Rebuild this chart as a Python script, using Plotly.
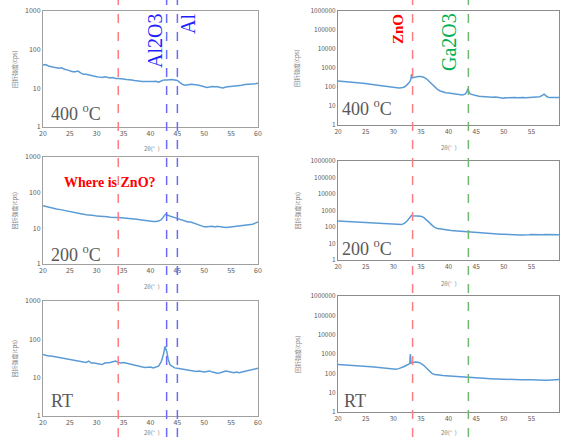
import plotly.graph_objects as go

W, H = 561, 437

# ---------------- data (2θ in degrees, intensity in cps) ----------------
L400 = [(20,40),(20.5,41),(21,38),(21.5,36),(22,35),(22.5,34),(23,33),(23.5,34),(24,31),(24.5,30),
        (25,28),(25.5,27),(26,27),(26.5,28),(27,25),(27.5,23),(28,23),(28.5,22),(29,22),(29.5,21),
        (30,20),(30.5,19.5),(31,19),(31.5,20),(32,19),(32.5,18.5),(33,19),(33.5,18),(34,18),(34.5,18),
        (35,17.5),(35.5,17),(36,17),(36.5,16.5),(37,16),(37.5,15.5),(38,15),(38.5,15),(39,15),(39.5,14.8),
        (40,15),(40.5,15),(41,15.2),(41.5,14.5),(42,15.5),(42.5,16.5),(43,16.5),(43.5,16.8),(44,17),(44.5,16.5),
        (45,16),(45.5,14),(46,12.5),(46.5,12),(47,12.5),(47.5,12.8),(48,12.5),(48.5,12.5),(49,12),(49.5,11.5),
        (50,11),(50.5,10.5),(51,10.8),(51.5,11.2),(52,11),(52.5,11),(53,10.5),(53.5,10.2),(54,10.8),(54.5,11),
        (55,11),(55.5,11.2),(56,11.5),(56.5,11.5),(57,12),(57.5,12.5),(58,12.5),(58.5,13),(59,13),(59.5,13.2),(60,13.5)]

L200 = [(20,43),(20.5,41),(21,40),(21.5,38),(22,37),(22.5,35),(23,34),(23.5,33),(24,32),(24.5,30),
        (25,29),(25.5,28),(26,28),(26.5,27),(27,26),(27.5,25),(28,24),(28.5,24),(29,24),(29.5,23),
        (30,22),(30.5,22),(31,21.5),(31.5,21),(32,21),(32.5,20.5),(33,20),(33.5,20),(34,20),(34.5,19.8),
        (35,19.5),(35.5,19),(36,19),(36.5,18.5),(37,18.5),(37.5,18),(38,17.5),(38.5,17),(39,16.5),(39.5,16),
        (40,16),(40.5,15.5),(41,15.5),(41.5,16),(42,17.5),(42.5,21),(42.8,25),(43,24),(43.5,22),(44,21),
        (44.5,20),(45,19),(45.5,18),(46,17),(46.5,16),(47,15),(47.5,15),(48,14),(48.5,13),(49,12),
        (49.5,11.5),(50,11),(50.5,11),(51,11.5),(51.5,11.5),(52,11),(52.5,11.5),(53,11),(53.5,10.5),(54,10.5),
        (54.5,10.8),(55,11),(55.5,11),(56,11.5),(56.5,11.5),(57,12),(57.5,12),(58,12.5),(58.5,12.5),(59,13),
        (59.5,14),(60,15)]

LRT = [(20,40),(20.5,38),(21,37),(21.5,37),(22,36),(22.5,34),(23,33),(23.5,33),(24,32),(24.5,31),
       (25,30),(25.5,29),(26,28),(26.5,28),(27,27),(27.5,26),(28,25),(28.5,27),(29,24),(29.5,24),
       (30,23),(30.5,23),(31,22),(31.5,24),(32,24),(32.5,25),(33,26),(33.5,27),(34,25),(34.5,24),
       (35,25),(35.5,24),(36,23),(36.5,22),(37,21),(37.5,20),(38,19),(38.5,19),(39,18.5),(39.5,19),
       (40,19),(40.5,18),(41,19),(41.5,20),(42,26),(42.4,40),(42.7,65),(43,50),(43.3,30),(43.6,22),
       (44,20),(44.5,18),(45,17.5),(45.5,17),(46,16.5),(46.5,16),(47,15.5),(47.5,15),(48,15),(48.5,14.5),
       (49,15),(49.5,14.5),(50,14),(50.5,14.5),(51,15),(51.5,14),(52,13.5),(52.5,13),(53,13.5),(53.5,14),
       (54,15),(54.5,14.5),(55,14),(55.5,13.5),(56,14),(56.5,13.5),(57,14),(57.5,14.5),(58,15),(58.5,16),
       (59,16.5),(59.5,17),(60,17.5)]

R400 = [(20,210),(20.5,205),(21,200),(21.5,195),(22,190),(22.5,185),(23,178),(23.5,172),(24,165),(24.5,160),
        (25,152),(25.5,145),(26,138),(26.5,132),(27,125),(27.5,120),(28,113),(28.5,108),(29,102),(29.5,97),
        (30,93),(30.5,90),(31,88),(31.5,90),(32,100),(32.5,130),(33,190),(33.2,260),(33.3,470),(33.4,300),
        (33.7,320),(34,340),(34.5,360),(35,360),(35.5,330),(36,270),(36.5,200),(37,140),(37.5,100),(38,75),
        (38.5,62),(39,55),(39.5,50),(40,48),(40.5,46),(41,44),(41.5,42),(42,40),(42.5,38),(43,42),
        (43.3,55),(43.5,80),(43.7,55),(44,42),(44.5,38),(45,35),(45.5,33),(46,32),(46.5,31),(47,30),
        (47.5,30),(48,29),(48.5,30),(49,28),(49.5,27),(50,26),(50.5,27),(51,28),(51.5,27),(52,28),
        (52.5,27),(53,28),(53.5,28),(54,27),(54.5,28),(55,29),(55.5,28),(56,29),(56.5,31),(57,36),
        (57.3,42),(57.6,35),(58,29),(58.5,28),(59,27),(59.5,28),(60,28)]

R200 = [(20,230),(20.5,225),(21,222),(21.5,220),(22,215),(22.5,212),(23,208),(23.5,205),(24,200),(24.5,195),
        (25,190),(25.5,185),(26,180),(26.5,175),(27,168),(27.5,163),(28,158),(28.5,152),(29,148),(29.5,143),
        (30,140),(30.5,138),(31,135),(31.5,140),(32,165),(32.5,230),(33,380),(33.3,500),(33.5,480),(34,470),
        (34.5,460),(35,450),(35.5,380),(36,280),(36.5,190),(37,130),(37.5,95),(38,82),(38.5,76),(39,72),
        (39.5,68),(40,64),(40.5,62),(41,60),(41.5,58),(42,60),(42.5,56),(43,52),(43.5,50),(44,48),
        (44.5,46),(45,45),(45.5,44),(46,43),(46.5,42),(47,41),(47.5,40),(48,39),(48.5,38),(49,37),
        (49.5,36),(50,36),(50.5,35),(51,35),(51.5,34),(52,34),(52.5,34),(53,33),(53.5,33),(54,32),
        (54.5,34),(55,35),(55.5,34),(56,35),(56.5,35),(57,34),(57.5,35),(58,35),(58.5,34),(59,36),
        (59.5,35),(60,34)]

RRT = [(20,290),(20.5,285),(21,280),(21.5,275),(22,270),(22.5,265),(23,258),(23.5,252),(24,245),(24.5,238),
       (25,232),(25.5,225),(26,218),(26.5,210),(27,202),(27.5,195),(28,188),(28.5,180),(29,172),(29.5,165),
       (30,160),(30.5,165),(31,175),(31.5,195),(32,225),(32.5,270),(33,320),(33.05,700),(33.1,1000),(33.15,600),
       (33.2,340),(33.5,360),(34,380),(34.5,370),(35,330),(35.5,260),(36,190),(36.5,135),(37,100),(37.5,88),
       (38,82),(38.5,79),(39,77),(39.5,75),(40,73),(40.5,71),(41,69),(41.5,68),(42,66),(42.5,65),
       (43,63),(43.5,62),(44,61),(44.5,60),(45,59),(45.5,57),(46,56),(46.5,55),(47,54),(47.5,53),
       (48,52),(48.5,51),(49,50),(49.5,49),(50,49),(50.5,48),(51,48),(51.5,47),(52,47),(52.5,46),
       (53,46),(53.5,47),(54,45),(54.5,46),(55,46),(55.5,45),(56,45),(56.5,46),(57,45),(57.5,44),
       (58,44),(58.5,45),(59,46),(59.5,47),(60,48)]

temp_labels = ["400 <sup>o</sup>C", "200 <sup>o</sup>C", "RT"]
x_ticks = [20, 25, 30, 35, 40, 45, 50, 55, 60]
left_y_ticks = [1, 10, 100, 1000]
right_y_ticks = [1, 10, 100, 1000, 10000, 100000, 1000000]

left_lines = {"ZnO": 34, "Al2O3": 43, "Al": 45}
right_lines = {"ZnO": 33.5, "Ga2O3": 43.6}

# ---------------- layout geometry (pixels) ----------------
left_x_px = (43, 258)
right_x_px = (338, 559)
left_rows_px = [(11, 127), (157, 264), (301, 416)]
right_rows_px = [(11, 125), (161, 260), (296, 412)]

def xd(a, b):
    return [a / W, b / W]

def yd(top, bottom):
    return [1 - bottom / H, 1 - top / H]

fig = go.Figure()
LINE = "#5b9bd5"
TXT = "#595959"

panels = [(L400, 1), (L200, 2), (LRT, 3), (R400, 4), (R200, 5), (RRT, 6)]
for pts, k in panels:
    xs = [p[0] for p in pts]
    ys = [p[1] for p in pts]
    fig.add_trace(go.Scatter(x=xs, y=ys, mode="lines",
                             line=dict(color=LINE, width=1.5),
                             xaxis="x" if k == 1 else f"x{k}",
                             yaxis="y" if k == 1 else f"y{k}",
                             showlegend=False, hoverinfo="skip"))

layout = dict(width=W, height=H, margin=dict(l=0, r=0, t=0, b=0),
              paper_bgcolor="white", plot_bgcolor="white", showlegend=False)

for k in range(1, 7):
    left = k <= 3
    row = (k - 1) % 3
    top, bottom = (left_rows_px if left else right_rows_px)[row]
    xpx = left_x_px if left else right_x_px
    frame = "#a0a0a0" if left else "#8c8c8c"
    fs = 7 if left else 6.5
    xname = "xaxis" if k == 1 else f"xaxis{k}"
    yname = "yaxis" if k == 1 else f"yaxis{k}"
    xa = "x" if k == 1 else f"x{k}"
    ya = "y" if k == 1 else f"y{k}"
    layout[xname] = dict(domain=xd(*xpx), anchor=ya, range=[20, 60],
                         tickvals=x_ticks, ticktext=[str(t) for t in x_ticks],
                         showline=True, mirror=True, linecolor=frame, linewidth=1,
                         showgrid=False, zeroline=False, ticks="",
                         tickfont=dict(size=fs, color=TXT, family="Noto Sans CJK JP"),
                         automargin=False, fixedrange=True)
    yt = left_y_ticks if left else right_y_ticks
    layout[yname] = dict(domain=yd(top, bottom), anchor=xa, type="log",
                         range=[0, 3] if left else [0, 6],
                         tickvals=yt, ticktext=[str(t) for t in yt],
                         showline=True, mirror=True, linecolor=frame, linewidth=1,
                         showgrid=False, zeroline=False, ticks="",
                         tickfont=dict(size=fs, color=TXT, family="Noto Sans CJK JP"),
                         automargin=False, fixedrange=True)

fig.update_layout(**layout)

# ---------------- dashed reference lines spanning the whole figure ----------------
shapes = []
for name, xv in left_lines.items():
    col = "#ff7c80" if name == "ZnO" else "#6b6bff"
    shapes.append(dict(type="line", xref="x", yref="paper", x0=xv, x1=xv, y0=0, y1=1,
                       line=dict(color=col, width=1.5, dash="dash"), layer="above"))
for name, xv in right_lines.items():
    col = "#ff7c80" if name == "ZnO" else "#70b870"
    shapes.append(dict(type="line", xref="x4", yref="paper", x0=xv, x1=xv, y0=0, y1=1,
                       line=dict(color=col, width=1.5, dash="dash"), layer="above"))
fig.update_layout(shapes=shapes)

# ---------------- annotations ----------------
ann = []
def px(x, y, text, size, color, family="Liberation Serif", angle=0, xanchor="center", yanchor="middle", bold=False):
    t = f"<b>{text}</b>" if bold else text
    ann.append(dict(x=x / W, y=1 - y / H, xref="paper", yref="paper", text=t, showarrow=False,
                    textangle=angle, xanchor=xanchor, yanchor=yanchor,
                    font=dict(size=size, color=color, family=family)))

# phase labels
px(155, 41, "Al2O3", 20, "#1f1fff", angle=-90)
px(188, 24, "Al", 20, "#1f1fff", angle=-90)
px(398, 29, "ZnO", 15, "#ff0000", angle=-90, bold=True)
px(449, 42, "Ga2O3", 20, "#00b050", angle=-90)
px(110, 182, "Where is ZnO?", 14, "#ff0000", bold=True)

# temperature labels
temp_pos_left = [(49, 113), (49, 253), (49, 401)]
temp_pos_right = [(340, 108), (340, 248), (342, 401)]
for lab, (x, y) in zip(temp_labels, temp_pos_left):
    px(x, y, lab, 18, TXT, xanchor="left")
for lab, (x, y) in zip(temp_labels, temp_pos_right):
    px(x, y, lab, 18, TXT, xanchor="left")

# axis titles
ytitle = "回折強度(cps)"
xtitle = "2θ(°  )"
for (top, bottom) in left_rows_px:
    px(14, (top + bottom) / 2, ytitle, 6, "#7f7f7f", family="Noto Sans CJK JP", angle=-90)
for (top, bottom) in right_rows_px:
    px(297, (top + bottom) / 2, ytitle, 6, "#7f7f7f", family="Noto Sans CJK JP", angle=-90)
for y in (148, 286, 432):
    px(152, y, xtitle, 6, "#7f7f7f", family="Noto Sans CJK JP")
for y in (147, 283, 432):
    px(449, y, xtitle, 6, "#7f7f7f", family="Noto Sans CJK JP")

fig.update_layout(annotations=ann)
fig.write_html("out.html", config={"displayModeBar": False},
               post_script="document.body.style.margin='0px';document.body.style.overflow='hidden';")
